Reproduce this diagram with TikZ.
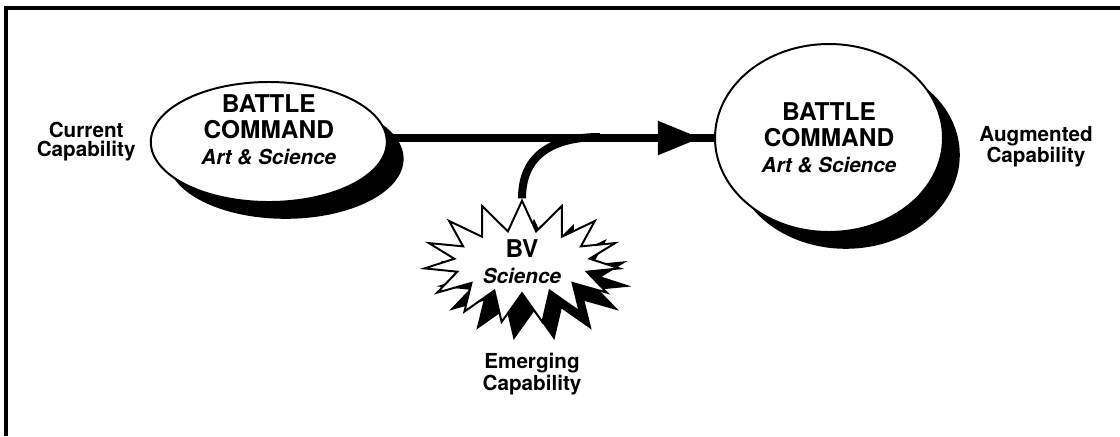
\documentclass[tikz,border=0pt]{standalone}
\usepackage{fontspec}
\setmainfont{TeX Gyre Heros}
\usepackage{tikz}
\usetikzlibrary{positioning}
\usetikzlibrary{shapes,arrows.meta,shadows,decorations.markings}

\tikzset{
  bc/.style={ellipse, draw, line width=1.4pt, fill=white, inner sep=0pt,
    drop shadow={shadow xshift=0.42cm, shadow yshift=-0.42cm, fill=black, opacity=1}},
  bct/.style={align=center, inner sep=0pt, font=\bfseries\fontsize{17.4}{18.6}\selectfont},
  capl/.style={align=center, inner sep=0pt, font=\bfseries\fontsize{14.7}{13.6}\selectfont},
  link/.style={line width=5.7pt, black},
}

\begin{document}
\begin{tikzpicture}
\useasboundingbox (0,0) rectangle (28,-10.9);
% frame %
\draw[line width=2.2pt] (0.15,-10.9) -- (0.15,-0.2) -- (28,-0.2);

% nodes %
\node[bc, minimum width=5.9cm, minimum height=3.0cm] (old) at (6.72,-3.55) {};
\node[bct] (oldt) at ([yshift=0.3cm]old.center)
  {BATTLE\\COMMAND\\{\itshape\fontsize{14.7}{18.6}\selectfont Art \& Science}};
\node[bc, minimum width=5.7cm, minimum height=4.7cm] (new) at (20.725,-3.45) {};
\node[bct] (newt) at (new.center)
  {BATTLE\\COMMAND\\{\itshape\fontsize{14.7}{18.6}\selectfont Art \& Science}};
\node[starburst, draw, line width=1.4pt, fill=white, random starburst=0,
  starburst points=15, starburst point height=0.75cm,
  minimum width=4.9cm, minimum height=2.2cm, inner sep=0pt, align=center,
  font=\bfseries\fontsize{17.4}{18.6}\selectfont,
  drop shadow={shadow xshift=0.3cm, shadow yshift=-0.45cm, fill=black, opacity=1}]
  (bv) at (13.05,-6.55) {BV\\{\itshape\fontsize{14.7}{18.6}\selectfont Science}};

\node[capl, left = 0.35cm of old] (cur) {Current\\Capability};
\node[capl, right = 0.875cm of new, yshift=-0.22cm] (aug) {Augmented\\Capability};
\node[capl, below = 2.28cm of bv.center, xshift=0.25cm] (emg) {Emerging\\Capability};
\coordinate (mc) at (15.0,-3.425);

% edges %
\draw[link, postaction={decorate, decoration={markings,
  mark=at position 0.96 with {\arrow{Triangle[length=1.075cm, width=0.8cm]}}}}]
  (old.east |- new.west) -- (new.west);
\draw[link] (bv.north) .. controls +(0,1.0) and +(-1.3,0) .. (mc);

\end{tikzpicture}
\end{document}
